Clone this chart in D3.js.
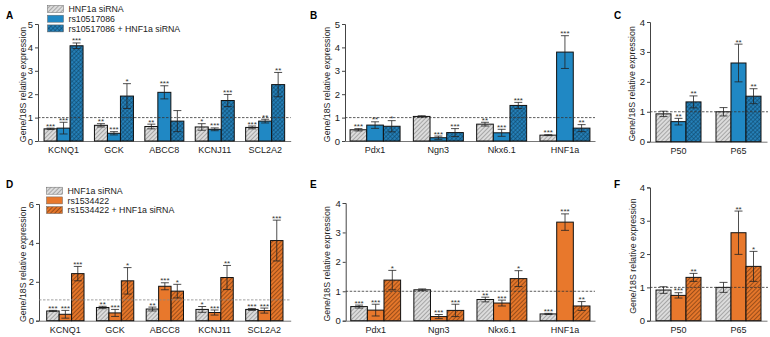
<!DOCTYPE html>
<html>
<head>
<meta charset="utf-8">
<script src="https://cdn.jsdelivr.net/npm/d3@7"></script>
<style>
  body { margin: 0; background: #fff; }
  svg { display: block; font-family: "Liberation Sans", Arial, sans-serif; }
</style>
</head>
<body>
<svg id="chart" width="770" height="337"></svg>
<script>
'use strict';

// categories
const isletGenes = ["KCNQ1", "GCK", "ABCC8", "KCNJ11", "SCL2A2"];
const tfGenes = ["Pdx1", "Ngn3", "Nkx6.1", "HNF1a"];
const nfkbGenes = ["P50", "P65"];
const blueLegend = ["HNF1a siRNA", "rs10517086", "rs10517086 + HNF1a siRNA"];
const orangeLegend = ["HNF1a siRNA", "rs1534422", "rs1534422 + HNF1a siRNA"];

// rows: HNF1a siRNA, SNP, SNP + siRNA
const aMean = [[0.52, 0.67, 0.62, 0.60, 0.58], [0.55, 0.33, 2.08, 0.50, 0.85], [4.07, 1.92, 0.85, 1.73, 2.41]];
const aErr  = [[0.03, 0.07, 0.10, 0.14, 0.06], [0.25, 0.07, 0.28, 0.06, 0.08], [0.12, 0.53, 0.45, 0.26, 0.52]];
const aSig  = [["***", "**", "**", "*", "***"], ["***", "***", "***", "***", "**"], ["***", "*", "", "***", "**"]];

const bMean = [[0.48, 1.05, 0.72, 0.25], [0.68, 0.14, 0.35, 3.80], [0.63, 0.36, 1.52, 0.55]];
const bErr  = [[0.05, 0.03, 0.08, 0.02], [0.14, 0.07, 0.15, 0.70], [0.24, 0.17, 0.13, 0.15]];
const bSig  = [["***", "", "**", "***"], ["**", "***", "***", "***"], ["*", "***", "***", "**"]];

const cMean = [[0.93, 1.00], [0.67, 2.63], [1.33, 1.52]];
const cErr  = [[0.09, 0.14], [0.11, 0.63], [0.20, 0.25]];
const cSig  = [["", ""], ["**", "**"], ["**", "**"]];

const dMean = [[0.50, 0.68, 0.60, 0.58, 0.58], [0.33, 0.40, 1.77, 0.42, 0.52], [2.42, 2.05, 1.52, 2.22, 4.12]];
const dErr  = [[0.03, 0.06, 0.10, 0.15, 0.05], [0.20, 0.18, 0.18, 0.13, 0.13], [0.37, 0.68, 0.35, 0.62, 1.05]];
const dSig  = [["***", "**", "**", "*", "***"], ["***", "***", "***", "***", "***"], ["***", "*", "*", "**", "***"]];

const eMean = [[0.48, 1.05, 0.72, 0.23], [0.36, 0.14, 0.60, 3.35], [1.38, 0.35, 1.43, 0.50]];
const eErr  = [[0.05, 0.03, 0.08, 0.02], [0.20, 0.07, 0.10, 0.28], [0.33, 0.21, 0.27, 0.15]];
const eSig  = [["***", "", "**", "***"], ["***", "***", "***", "***"], ["*", "***", "*", "**"]];

const fMean = [[0.92, 1.00], [0.76, 2.64], [1.30, 1.63]];
const fErr  = [[0.10, 0.15], [0.08, 0.65], [0.12, 0.45]];
const fSig  = [["", ""], ["***", "**"], ["**", "*"]];

const svg = d3.select("#chart");
const defs = svg.append("defs");

function hatch(id, base, lineColor, angle, cross) {
  const p = defs.append("pattern")
    .attr("id", id)
    .attr("patternUnits", "userSpaceOnUse")
    .attr("width", 3).attr("height", 3)
    .attr("patternTransform", `rotate(${angle})`);
  p.append("rect").attr("width", 3).attr("height", 3).attr("fill", base);
  p.append("line").attr("x1", 0).attr("y1", 0).attr("x2", 0).attr("y2", 3)
    .attr("stroke", lineColor).attr("stroke-width", 1.1);
  if (cross) {
    p.append("line").attr("x1", 0).attr("y1", 0).attr("x2", 3).attr("y2", 0)
      .attr("stroke", lineColor).attr("stroke-width", 0.8);
  }
}
hatch("greyHatch", "#dcdcdc", "#7a7a7a", 45, false);
hatch("blueCross", "#2580b8", "#0d3f60", 45, true);
hatch("orangeHatch", "#e4762a", "#5e2c0c", 45, false);

const blueFills = ["url(#greyHatch)", "#2088c4", "url(#blueCross)"];
const orangeFills = ["url(#greyHatch)", "#e8782c", "url(#orangeHatch)"];

function drawPanel(cfg) {
  const g = svg.append("g");
  const x = d3.scaleBand()
    .domain(cfg.genes)
    .range([cfg.left, cfg.right])
    .paddingInner(cfg.pi)
    .paddingOuter(cfg.po);
  const xs = d3.scaleBand().domain([0, 1, 2]).range([0, x.bandwidth()]);
  const y = d3.scaleLinear().domain([0, cfg.yMax]).range([cfg.bottom, cfg.top]);

  // y axis
  const yAxis = d3.axisLeft(y).tickValues(cfg.ticks).tickFormat(d3.format("d")).tickSize(3).tickPadding(2);
  const ya = g.append("g").attr("transform", `translate(${cfg.left},0)`).call(yAxis);
  ya.select(".domain").attr("stroke", "#444");
  ya.selectAll(".tick line").attr("stroke", "#444");
  ya.selectAll(".tick text").attr("font-size", 9.5).attr("fill", "#222").attr("font-family", null);

  // x axis
  const xAxis = d3.axisBottom(x).tickSize(0).tickPadding(6);
  const xa = g.append("g").attr("transform", `translate(0,${cfg.bottom})`).call(xAxis);
  xa.select(".domain").attr("stroke", "#777");
  xa.selectAll(".tick text").attr("font-size", 9).attr("fill", "#222").attr("font-family", null);

  // y label
  g.append("text")
    .attr("transform", `translate(${cfg.labelX},${(cfg.top + cfg.bottom) / 2 + 2}) rotate(-90)`)
    .attr("text-anchor", "middle")
    .attr("font-size", 8.8)
    .attr("fill", "#222")
    .text("Gene/18S relative expression");

  // panel letter
  g.append("text")
    .attr("x", cfg.letterX).attr("y", cfg.letterY)
    .attr("font-size", 10).attr("font-weight", "bold")
    .text(cfg.letter);

  const rows = [];
  cfg.genes.forEach(function (gene, i) {
    for (let s = 0; s < 3; s++) {
      rows.push({ gene: gene, s: s, v: cfg.mean[s][i], e: cfg.err[s][i], sig: cfg.sig[s][i] });
    }
  });

  const bars = g.append("g");
  bars.selectAll("rect")
    .data(rows)
    .join("rect")
    .attr("x", d => x(d.gene) + xs(d.s))
    .attr("y", d => y(d.v))
    .attr("width", xs.bandwidth())
    .attr("height", d => y(0) - y(d.v))
    .attr("fill", d => cfg.fills[d.s])
    .attr("stroke", "#111")
    .attr("stroke-width", 1);

  // reference line at 1
  g.append("line")
    .attr("x1", cfg.left).attr("x2", cfg.lineEnd)
    .attr("y1", y(cfg.refLine)).attr("y2", y(cfg.refLine))
    .attr("stroke", cfg.refColor)
    .attr("stroke-width", 0.8)
    .attr("stroke-dasharray", "2.5,1.5");

  const cap = 4;
  const err = g.append("g").attr("stroke", "#222").attr("stroke-width", 0.8);
  rows.forEach(function (d) {
    const cx = x(d.gene) + xs(d.s) + xs.bandwidth() / 2;
    const hi = y(d.v + d.e), lo = y(Math.max(0, d.v - d.e));
    err.append("line").attr("x1", cx).attr("x2", cx).attr("y1", hi).attr("y2", lo);
    err.append("line").attr("x1", cx - cap).attr("x2", cx + cap).attr("y1", hi).attr("y2", hi);
    err.append("line").attr("x1", cx - cap).attr("x2", cx + cap).attr("y1", lo).attr("y2", lo);
    if (d.sig) {
      g.append("text")
        .attr("x", cx).attr("y", hi + 0.5)
        .attr("text-anchor", "middle")
        .attr("font-size", 8)
        .attr("fill", "#333")
        .text(d.sig);
    }
  });

  if (cfg.legend) {
    const lg = g.append("g");
    cfg.legend.forEach(function (name, i) {
      const ly = cfg.legendY + i * 9.7;
      lg.append("rect")
        .attr("x", cfg.legendX).attr("y", ly - 3.5)
        .attr("width", 16).attr("height", 7)
        .attr("fill", cfg.fills[i])
        .attr("stroke", "#666").attr("stroke-width", 0.5);
      lg.append("text")
        .attr("x", cfg.legendX + 21).attr("y", ly + 3.2)
        .attr("font-size", 8.8).attr("fill", "#222")
        .text(name);
    });
  }
}

drawPanel({ letter: "A", letterX: 6, letterY: 19, genes: isletGenes, mean: aMean, err: aErr, sig: aSig,
  fills: blueFills, left: 38, right: 290.7, pi: 0.226, po: 0.12, lineEnd: 290.7,
  top: 24, bottom: 141, yMax: 5, ticks: [0, 1, 2, 3, 4, 5], labelX: 26, refLine: 1, refColor: "#333",
  legend: blueLegend, legendX: 47.5, legendY: 9 });

drawPanel({ letter: "B", letterX: 310, letterY: 19, genes: tfGenes, mean: bMean, err: bErr, sig: bSig,
  fills: blueFills, left: 345, right: 595, pi: 0.21, po: 0.08, lineEnd: 595,
  top: 24, bottom: 141, yMax: 5, ticks: [0, 1, 2, 3, 4, 5], labelX: 329.5, refLine: 1, refColor: "#333" });

drawPanel({ letter: "C", letterX: 614, letterY: 19, genes: nfkbGenes, mean: cMean, err: cErr, sig: cSig,
  fills: blueFills, left: 650, right: 767, pi: 0.25, po: 0.1, lineEnd: 768,
  top: 22, bottom: 141.7, yMax: 4, ticks: [0, 1, 2, 3, 4], labelX: 634.5, refLine: 1, refColor: "#333" });

drawPanel({ letter: "D", letterX: 6, letterY: 188, genes: isletGenes, mean: dMean, err: dErr, sig: dSig,
  fills: orangeFills, left: 39, right: 290.7, pi: 0.25, po: 0.155, lineEnd: 290.7,
  top: 204, bottom: 320.7, yMax: 6, ticks: [0, 2, 4, 6], labelX: 26, refLine: 1.07, refColor: "#888",
  legend: orangeLegend, legendX: 46.5, legendY: 190.7 });

drawPanel({ letter: "E", letterX: 310, letterY: 188, genes: tfGenes, mean: eMean, err: eErr, sig: eSig,
  fills: orangeFills, left: 345.7, right: 595, pi: 0.21, po: 0.08, lineEnd: 595,
  top: 203, bottom: 320.7, yMax: 4, ticks: [0, 1, 2, 3, 4], labelX: 329.5, refLine: 1, refColor: "#333" });

drawPanel({ letter: "F", letterX: 614, letterY: 188, genes: nfkbGenes, mean: fMean, err: fErr, sig: fSig,
  fills: orangeFills, left: 650, right: 767, pi: 0.25, po: 0.1, lineEnd: 768,
  top: 187.4, bottom: 320.7, yMax: 4, ticks: [0, 1, 2, 3, 4], labelX: 635.5, refLine: 1, refColor: "#333" });
</script>
</body>
</html>
